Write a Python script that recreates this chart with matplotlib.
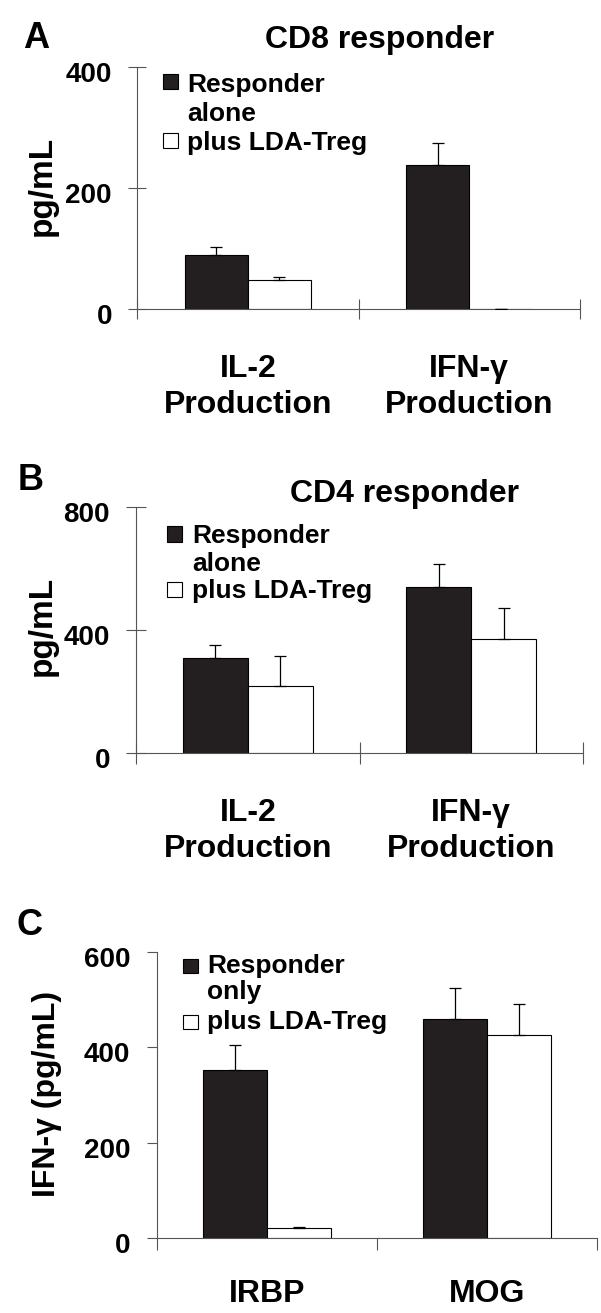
import matplotlib
matplotlib.use("Agg")
import matplotlib.pyplot as plt
import matplotlib.transforms as mtransforms
from matplotlib.patches import Rectangle
import numpy as np

W, H, DPI = 601, 1313, 100
FONT = "Liberation Sans"
BAR_BLACK = "#231f20"
AXIS_GRAY = "#555555"

plt.rcParams["font.family"] = [FONT, "DejaVu Sans"]
plt.rcParams["font.weight"] = "bold"

# Panel A - CD8 responder
a_categories = [("IL-2", "Production"), ("IFN-γ", "Production")]
a_alone = [89, 238]
a_alone_err = [13, 36]
a_treg = [48, 0]
a_treg_err = [5, 0]
a_yticks = [0, 200, 400]

# Panel B - CD4 responder
b_categories = [("IL-2", "Production"), ("IFN-γ", "Production")]
b_alone = [309, 540]
b_alone_err = [42, 75]
b_treg = [218, 371]
b_treg_err = [97, 101]
b_yticks = [0, 400, 800]

# Panel C - IFN-gamma by antigen
c_categories = [("IRBP",), ("MOG",)]
c_only = [352, 459]
c_only_err = [53, 65]
c_treg = [21, 426]
c_treg_err = [2, 65]
c_yticks = [0, 200, 400, 600]


def fx(px):
    return px / W


def fy(py):
    return 1 - py / H


fig = plt.figure(figsize=(W / DPI, H / DPI), dpi=DPI)


def panel(box, cats, black, black_err, white, white_err, yticks, width,
          ytick_len, ytick_dir, xtick_len, xtick_dir, ypad, label_offsets):
    left, top, right, bottom = box
    ax = fig.add_axes([fx(left), fy(bottom), (right - left) / W, (bottom - top) / H])
    n = len(cats)
    x = np.arange(n) + 0.5
    ax.bar(x - width / 2, black, width, color=BAR_BLACK, edgecolor="black",
           linewidth=0.8, zorder=2)
    ax.bar(x + width / 2, white, width, color="white", edgecolor="black",
           linewidth=0.8, zorder=2)
    ax.errorbar(x - width / 2, black, yerr=[np.zeros(n), black_err], fmt="none",
                ecolor="black", elinewidth=0.9, capsize=4, capthick=0.9, zorder=3)
    ax.errorbar(x + width / 2, white, yerr=[np.zeros(n), white_err], fmt="none",
                ecolor="black", elinewidth=0.9, capsize=4, capthick=0.9, zorder=3)

    ax.set_xlim(0, n)
    ax.set_ylim(0, yticks[-1])
    for s in ["top", "right"]:
        ax.spines[s].set_visible(False)
    for s in ["left", "bottom"]:
        ax.spines[s].set_color(AXIS_GRAY)
        ax.spines[s].set_linewidth(0.8)
    ax.set_xticks(np.arange(n + 1))
    ax.set_xticklabels([])
    ax.set_yticks(yticks)
    ax.set_yticklabels([str(t) for t in yticks], fontsize=20, fontweight="bold")
    ax.tick_params(axis="y", length=ytick_len, direction=ytick_dir, width=0.8,
                   color=AXIS_GRAY, pad=ypad)
    ax.tick_params(axis="x", length=xtick_len, direction=xtick_dir, width=0.8,
                   color=AXIS_GRAY)
    shift = mtransforms.ScaledTranslation(0, -5 / DPI, fig.dpi_scale_trans)
    for lab in ax.get_yticklabels():
        lab.set_transform(lab.get_transform() + shift)

    for xi, lines in zip(x, cats):
        for line, off in zip(lines, label_offsets):
            tr = mtransforms.offset_copy(ax.transData, fig=fig, y=-off, units="dots")
            ax.text(xi, 0, line, transform=tr, ha="center", va="baseline",
                    fontsize=23, fontweight="bold")
    return ax


def legend(sq_x, text_x, first_base, second_base, third_base, sq1, sq2, word2):
    for (y0, y1), fc in [(sq1, BAR_BLACK), (sq2, "white")]:
        fig.add_artist(Rectangle((fx(sq_x), fy(y1)), 15 / W, (y1 - y0) / H,
                                 transform=fig.transFigure, facecolor=fc,
                                 edgecolor="black", linewidth=0.8))
    for txt, base in [("Responder", first_base), (word2, second_base),
                      ("plus LDA-Treg", third_base)]:
        fig.text(fx(text_x), fy(base), txt, ha="left", va="baseline",
                 fontsize=19, fontweight="bold")


# Panel A
panel((137, 67, 580, 309), a_categories, a_alone, a_alone_err, a_treg, a_treg_err,
      a_yticks, 0.285, 13, "inout", 14.4, "inout", 11.5, [68, 104])
fig.text(fx(23), fy(48), "A", fontsize=26, fontweight="bold", va="baseline")
fig.text(fx(380), fy(48), "CD8 responder", fontsize=23, fontweight="bold",
         ha="center", va="baseline")
fig.text(fx(42), fy(186), "pg/mL", fontsize=24, fontweight="bold", rotation=90,
         ha="center", va="center")
legend(163, 187, 92, 121, 150, (74, 89), (133, 148), "alone")

# Panel B
panel((136, 507, 583, 753), b_categories, b_alone, b_alone_err, b_treg, b_treg_err,
      b_yticks, 0.29, 14.4, "inout", 16.5, "inout", 11.5, [68, 104])
fig.text(fx(18), fy(490), "B", fontsize=26, fontweight="bold", va="baseline")
fig.text(fx(405), fy(502), "CD4 responder", fontsize=23, fontweight="bold",
         ha="center", va="baseline")
fig.text(fx(42), fy(626), "pg/mL", fontsize=24, fontweight="bold", rotation=90,
         ha="center", va="center")
legend(167, 192, 543, 571, 598, (526, 542), (582, 597), "alone")

# Panel C
panel((157, 952, 597, 1238), c_categories, c_only, c_only_err, c_treg, c_treg_err,
      c_yticks, 0.29, 7.2, "out", 8.6, "out", 12, [64])
fig.text(fx(17), fy(935), "C", fontsize=26, fontweight="bold", va="baseline")
fig.text(fx(47), fy(1094), "IFN-γ (pg/mL)", fontsize=23, fontweight="bold",
         rotation=90, ha="center", va="center")
legend(183, 207, 973, 999, 1029, (959, 973), (1015, 1029), "only")

fig.savefig("out.png", dpi=DPI)
